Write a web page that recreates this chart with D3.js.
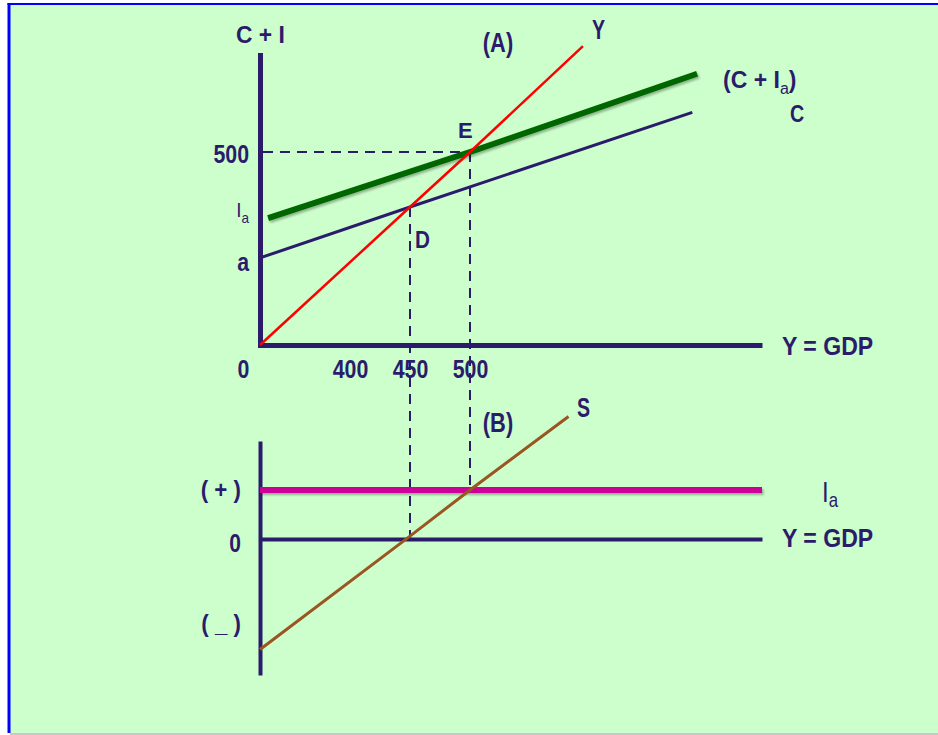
<!DOCTYPE html>
<html>
<head>
<meta charset="utf-8">
<script src="https://cdn.jsdelivr.net/npm/d3@7"></script>
<style>
  body { margin: 0; background: #fff; }
  svg { display: block; }
</style>
</head>
<body>
<div id="chart"></div>
<script>
// Panel A: income-expenditure diagram
const xTicks = [0, 400, 450, 500];
const yTickA = 500;
const levelA = 284;   // autonomous consumption "a"
const levelIa = 414;  // a + Ia, where C + Ia starts
const lineY = [[0, 0], [450, 450], [500, 500], [594, 596]];
const lineC = [[0, 284], [450, 450], [685, 536]];
const lineCIa = [[36, 414], [500, 500], [689, 571]];
const pointD = [450, 450];
const pointE = [500, 500];

// Panel B: saving and investment
const investB = 50;
const lineS = [[0, -113], [447, 0], [500, 50], [582, 125]];
const signTicks = [50, 0, -87];
const signLabels = ["( + )", "0", "( _ )"];

const NAVY = "#2b1b6b";
const SANS = "'Liberation Sans', Arial, sans-serif";

const width = 938, height = 735;

// piecewise scales: the drawing has a broken axis near the origin
const xA = d3.scaleLinear().domain([0, 400, 500, 743]).range([260, 350, 470, 762]);
const yA = d3.scaleLinear().domain([0, 450, 500, 588]).range([345, 207, 152, 55]);
const yB = d3.scaleLinear().domain([-139, 100]).range([675, 441]);

const svg = d3.select("#chart").append("svg")
  .attr("width", width)
  .attr("height", height);

svg.append("defs").append("filter").attr("id", "shadow")
  .attr("filterUnits", "userSpaceOnUse")
  .attr("x", 0).attr("y", 0).attr("width", width).attr("height", height)
  .append("feDropShadow")
  .attr("dx", 1.5).attr("dy", 2).attr("stdDeviation", 1.2)
  .attr("flood-color", "#000").attr("flood-opacity", 0.3);

// slide frame
svg.append("rect").attr("x", 10).attr("y", 5).attr("width", 928).attr("height", 728).attr("fill", "#ccffcc");
svg.append("line").attr("x1", 7.5).attr("x2", width).attr("y1", 4).attr("y2", 4)
  .attr("stroke", "#0000ff").attr("stroke-width", 2);
svg.append("line").attr("x1", 9).attr("x2", 9).attr("y1", 3).attr("y2", 733)
  .attr("stroke", "#0000ff").attr("stroke-width", 3);
svg.append("line").attr("x1", 10).attr("x2", width).attr("y1", 734).attr("y2", 734)
  .attr("stroke", "#c8c8c8").attr("stroke-width", 2);

// the slide's lettering is tall and narrow: squeeze text horizontally
function condense(node, sx) {
  if (sx === 1) return;
  const len = node.getComputedTextLength();
  d3.select(node).attr("textLength", len * sx).attr("lengthAdjust", "spacingAndGlyphs");
}

function label(x, y, txt, opts = {}) {
  const t = svg.append("text")
    .attr("x", x).attr("y", y)
    .attr("fill", NAVY)
    .attr("font-family", SANS)
    .attr("font-weight", opts.weight || "bold")
    .attr("font-size", opts.size || 26)
    .attr("text-anchor", opts.anchor || "start");
  t.append("tspan").text(txt);
  if (opts.sub) {
    t.append("tspan").attr("dy", opts.subDy || 6)
      .attr("font-size", opts.subSize || 16)
      .attr("font-weight", "normal")
      .text(opts.sub);
    if (opts.after) t.append("tspan").attr("dy", -(opts.subDy || 6)).text(opts.after);
  }
  condense(t.node(), opts.sx || 1);
  return t;
}

// ---- Panel A axes
const gxA = svg.append("g")
  .attr("transform", `translate(0,${yA(0)})`)
  .call(d3.axisBottom(xA).tickValues(xTicks).tickSize(0).tickPadding(15).tickFormat(d3.format("d")));
gxA.attr("color", NAVY).attr("font-family", SANS).attr("font-size", 26).attr("font-weight", "bold");
gxA.select(".domain").attr("stroke-width", 5);
gxA.selectAll(".tick text").filter((d) => d === 0).attr("x", -17);
gxA.selectAll(".tick text").each(function () { condense(this, 0.82); });

const gyA = svg.append("g")
  .attr("transform", `translate(${xA(0)},0)`)
  .call(d3.axisLeft(yA).tickValues([yTickA, levelIa, levelA]).tickSize(0).tickPadding(11)
    .tickFormat((d) => (d === yTickA ? "500" : d === levelA ? "a" : "")));
gyA.attr("color", NAVY).attr("font-family", SANS).attr("font-size", 26).attr("font-weight", "bold");
gyA.select(".domain").attr("stroke-width", 5).attr("stroke-linecap", "square");
gyA.selectAll(".tick text").each(function (d) {
  const t = d3.select(this);
  if (d === yTickA) t.attr("y", 2.5);
  if (d === levelA) t.attr("y", 4);
  if (d === levelIa) {
    t.attr("font-size", 21).attr("font-weight", "normal").attr("y", -8);
    t.append("tspan").text("I");
    t.append("tspan").attr("dy", 6).attr("font-size", 15).text("a");
  }
  condense(this, d === levelIa ? 0.9 : 0.82);
});

// ---- Panel B axes
const gyB = svg.append("g")
  .attr("transform", `translate(${xA(0)},0)`)
  .call(d3.axisLeft(yB).tickValues(signTicks).tickSize(0).tickPadding(19)
    .tickFormat((d, i) => signLabels[i]));
gyB.attr("color", NAVY).attr("font-family", SANS).attr("font-size", 24).attr("font-weight", "bold");
gyB.select(".domain").attr("stroke-width", 4);
gyB.selectAll(".tick text").each(function (d) {
  const t = d3.select(this);
  if (d === 0) {
    t.attr("font-size", 25).attr("y", 5);
    condense(this, 0.84);
  } else {
    condense(this, 0.93);
  }
});

const gxB = svg.append("g")
  .attr("transform", `translate(0,${yB(0)})`)
  .call(d3.axisBottom(xA).tickValues([]).tickSizeOuter(0));
gxB.attr("color", NAVY);
gxB.select(".domain").attr("stroke-width", 4);

// ---- dashed guides
const dash = (pts) => svg.append("path")
  .attr("d", d3.line()(pts))
  .attr("fill", "none").attr("stroke", NAVY)
  .attr("stroke-width", 2).attr("stroke-dasharray", "10,7");

dash([[xA(0) + 3, yA(pointE[1])], [xA(pointE[0]), yA(pointE[1])]]);
dash([[xA(pointD[0]), yA(pointD[1])], [xA(pointD[0]), yB(0)]]);
dash([[xA(pointE[0]), yA(pointE[1])], [xA(pointE[0]), yB(investB)]]);

// ---- Panel A lines
const lineAgen = d3.line().x((d) => xA(d[0])).y((d) => yA(d[1]));
const lineBgen = d3.line().x((d) => xA(d[0])).y((d) => yB(d[1]));

svg.append("path").attr("d", lineAgen(lineC))
  .attr("fill", "none").attr("stroke", NAVY).attr("stroke-width", 3);
svg.append("path").attr("d", lineAgen(lineCIa))
  .attr("fill", "none").attr("stroke", "#006600").attr("stroke-width", 6)
  .attr("filter", "url(#shadow)");
svg.append("path").attr("d", lineAgen(lineY))
  .attr("fill", "none").attr("stroke", "#ff0000").attr("stroke-width", 2.5);

// ---- Panel B lines
svg.append("path").attr("d", lineBgen([[0, investB], [743, investB]]))
  .attr("fill", "none").attr("stroke", "#cc0099").attr("stroke-width", 6)
  .attr("filter", "url(#shadow)");
svg.append("path").attr("d", lineBgen(lineS))
  .attr("fill", "none").attr("stroke", "#995522").attr("stroke-width", 3);

// ---- annotations
label(236, 43, "C + I", { size: 24, sx: 0.95 });
label(498, 52, "(A)", { size: 28, sx: 0.78, anchor: "middle" });
label(592, 39, "Y", { size: 28, sx: 0.7 });
label(723, 88, "(C + I", { size: 23, sub: "a", subSize: 16, subDy: 6, after: ")" });
label(790, 122, "C", { size: 24, sx: 0.82 });
label(458, 138, "E", { size: 22 });
label(415, 248, "D", { size: 23, sx: 0.9 });
label(782, 355, "Y = GDP", { size: 26.5, sx: 0.87 });
label(498, 432, "(B)", { size: 28, sx: 0.78, anchor: "middle" });
label(577, 417, "S", { size: 28, sx: 0.7 });
label(822, 502, "I", { size: 30, weight: "normal", sub: "a", subSize: 21, subDy: 5, sx: 0.8 });
label(782, 547, "Y = GDP", { size: 26.5, sx: 0.87 });
</script>
</body>
</html>
